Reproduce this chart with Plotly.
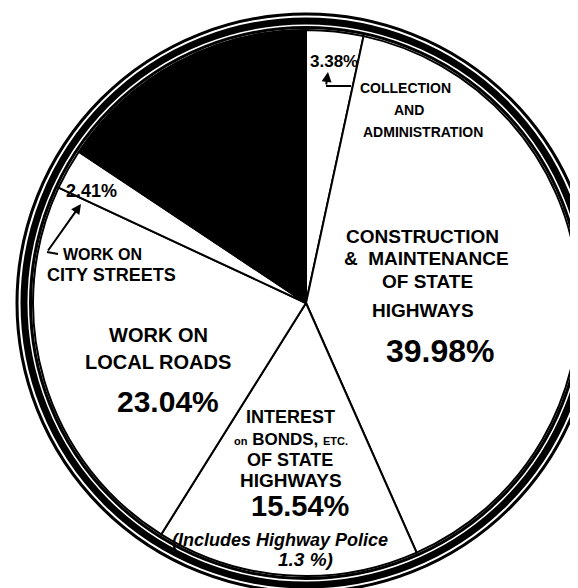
import plotly.graph_objects as go

# ---- data ----
categories = [
    "Collection and Administration",
    "Construction & Maintenance of State Highways",
    "Interest on Bonds, etc. of State Highways",
    "Work on Local Roads",
    "Work on City Streets",
    "Other",
]
shares = [3.38, 39.98, 15.54, 23.04, 2.41, 15.65]
slice_colors = ["white", "white", "white", "white", "white", "black"]

W, H = 578, 588
CX, CY, R = 298, 295, 273  # pie centre / radius in px (layout only)


def px(x, y):
    return x / W, 1 - y / H


fig = go.Figure(
    go.Pie(
        labels=categories,
        values=shares,
        sort=False,
        direction="clockwise",
        rotation=0,
        textinfo="none",
        hoverinfo="label+percent",
        marker=dict(colors=slice_colors, line=dict(color="black", width=2)),
        domain=dict(x=[(CX - R) / W, (CX + R) / W], y=[(H - CY - R) / H, (H - CY + R) / H]),
        showlegend=False,
    )
)

# ---- border rings ----
shapes = []
for r, w in [(275.5, 3), (282, 7), (289, 3)]:
    shapes.append(
        dict(
            type="circle", xref="paper", yref="paper",
            x0=(CX - r) / W, x1=(CX + r) / W,
            y0=1 - (CY + r) / H, y1=1 - (CY - r) / H,
            line=dict(color="black", width=w),
        )
    )


def seg(x0, y0, x1, y1, w=2):
    a = px(x0, y0)
    b = px(x1, y1)
    return dict(type="line", xref="paper", yref="paper", x0=a[0], y0=a[1], x1=b[0], y1=b[1],
                line=dict(color="black", width=w))


shapes.append(seg(343, 78, 318, 78))
shapes.append(seg(39, 244, 50, 246))

BOLD = "Liberation Sans, Arial, sans-serif"
NARROW = "DejaVu Sans Condensed, Liberation Sans, sans-serif"

anns = []


def txt(s, x, y, size, family=BOLD, weight="bold", style="normal"):
    xx, yy = px(x, y)
    anns.append(dict(text=s, x=xx, y=yy, xref="paper", yref="paper", showarrow=False,
                     xanchor="center", yanchor="middle",
                     font=dict(family=family, size=size, color="black", weight=weight, style=style)))


def arrow(tx, ty, fx, fy):
    xx, yy = px(tx, ty)
    anns.append(dict(text="", x=xx, y=yy, xref="paper", yref="paper", showarrow=True,
                     ax=fx - tx, ay=fy - ty, arrowhead=2, arrowsize=1, arrowwidth=2,
                     arrowcolor="black"))


# collection
txt("3.38%", 326, 54, 17)
arrow(320, 64, 318, 78)
txt("COLLECTION", 397, 80, 14)
txt("AND", 401, 102, 14)
txt("ADMINISTRATION", 415, 124, 14)

# construction
txt("CONSTRUCTION", 414, 228, 19)
txt("&amp;  MAINTENANCE", 418, 251, 19)
txt("OF STATE", 419, 273, 19)
txt("HIGHWAYS", 415, 302, 19)
txt("39.98%", 432, 343, 32)

# city streets
txt("2.41%", 83, 183, 18)
arrow(73, 196, 39, 244)
txt("WORK ON", 94, 246, 16)
txt("CITY STREETS", 103, 267, 18)

# local roads
txt("WORK ON", 150, 327, 20)
txt("LOCAL ROADS", 150, 354, 20)
txt("23.04%", 160, 393, 30)

# interest
txt("INTEREST", 282, 409, 18)
txt("<span style='font-size:11px'>on</span> BONDS, <span style='font-size:11px'>ETC.</span>", 283, 431, 17)
txt("OF STATE", 282, 452, 18)
txt("HIGHWAYS", 283, 473, 19)
txt("15.54%", 292, 498, 29)
txt("(Includes Highway Police", 272, 532, 18, style="italic")
txt("1.3 %)", 297, 551, 19, style="italic")

fig.update_layout(
    width=W, height=H,
    margin=dict(l=0, r=0, t=0, b=0),
    paper_bgcolor="white",
    plot_bgcolor="white",
    shapes=shapes,
    annotations=anns,
)

fig.write_html("out.html")
